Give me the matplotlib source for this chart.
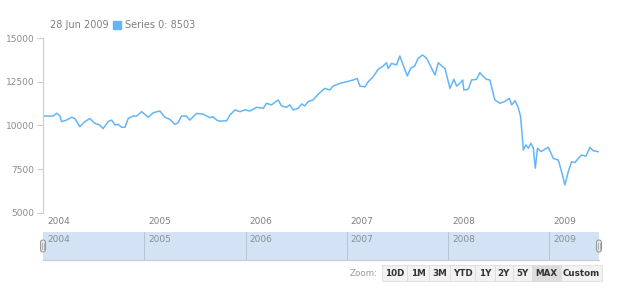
import matplotlib
matplotlib.use("Agg")
import matplotlib.pyplot as plt
import matplotlib.dates as mdates
from matplotlib.patches import Rectangle, FancyBboxPatch
import pandas as pd

# weekly-ish closes
dates = [
    "2004-01-01", "2004-02-07", "2004-02-19", "2004-03-02", "2004-03-08", "2004-03-26",
    "2004-04-13", "2004-04-25", "2004-05-13", "2004-05-31", "2004-06-18", "2004-07-06",
    "2004-07-24", "2004-08-05", "2004-08-23", "2004-09-05", "2004-09-17", "2004-09-28",
    "2004-10-11", "2004-10-23", "2004-11-04", "2004-11-22", "2004-12-04", "2004-12-22",
    "2005-01-15", "2005-02-02", "2005-02-26", "2005-03-16", "2005-04-03", "2005-04-21",
    "2005-05-03", "2005-05-15", "2005-06-02", "2005-06-14", "2005-07-08", "2005-08-01",
    "2005-08-25", "2005-09-06", "2005-09-19", "2005-10-01", "2005-10-25", "2005-11-06",
    "2005-11-24", "2005-12-12", "2005-12-30", "2006-01-17", "2006-02-10", "2006-03-06",
    "2006-03-18", "2006-04-05", "2006-04-29", "2006-05-11", "2006-05-29", "2006-06-10",
    "2006-06-22", "2006-07-10", "2006-07-23", "2006-08-03", "2006-08-15", "2006-09-02",
    "2006-09-20", "2006-10-14", "2006-11-01", "2006-11-13", "2006-12-08", "2007-01-01",
    "2007-01-25", "2007-02-08", "2007-02-18", "2007-03-08", "2007-03-20", "2007-04-07",
    "2007-04-25", "2007-05-13", "2007-05-25", "2007-05-31", "2007-06-12", "2007-06-30",
    "2007-07-12", "2007-07-24", "2007-08-08", "2007-08-20", "2007-09-04", "2007-09-16",
    "2007-10-02", "2007-10-17", "2007-11-04", "2007-11-16", "2007-11-28", "2007-12-10",
    "2007-12-22", "2008-01-09", "2008-01-23", "2008-02-02", "2008-02-14", "2008-02-24",
    "2008-02-28", "2008-03-15", "2008-03-27", "2008-04-14", "2008-04-26", "2008-05-06",
    "2008-05-20", "2008-06-01", "2008-06-19", "2008-07-07", "2008-07-25", "2008-08-10",
    "2008-08-19", "2008-08-31", "2008-09-11", "2008-09-20", "2008-09-30", "2008-10-09",
    "2008-10-18", "2008-10-27", "2008-11-05", "2008-11-12", "2008-11-20", "2008-12-02",
    "2008-12-17", "2008-12-29", "2009-01-16", "2009-02-03", "2009-02-15", "2009-02-27",
    "2009-03-11", "2009-03-23", "2009-04-04", "2009-04-16", "2009-04-28", "2009-05-14",
    "2009-05-28", "2009-06-09", "2009-06-28",
]
values = [
    10540, 10540, 10700, 10550, 10220, 10310,
    10470, 10400, 9930, 10220, 10400, 10120,
    10030, 9820, 10220, 10310, 10030, 10070,
    9900, 9900, 10410, 10540, 10540, 10790,
    10470, 10730, 10830, 10470, 10350, 10070,
    10160, 10540, 10540, 10310, 10690, 10650,
    10450, 10500, 10310, 10250, 10270, 10600,
    10890, 10790, 10890, 10830, 11040, 10980,
    11270, 11180, 11460, 11120, 11040, 11180,
    10890, 10980, 11230, 11120, 11370, 11460,
    11780, 12120, 12030, 12250, 12410, 12500,
    12600, 12690, 12250, 12210, 12500, 12790,
    13210, 13400, 13590, 13260, 13550, 13460,
    13970, 13460, 12830, 13260, 13400, 13840,
    14030, 13840, 13260, 12890, 13590, 13400,
    13260, 12120, 12640, 12250, 12410, 12600,
    12030, 12070, 12600, 12640, 13020, 12830,
    12640, 12600, 11460, 11270, 11370, 11550,
    11180, 11420, 11040, 10500, 8600, 8890,
    8700, 8980, 8700, 7560, 8700, 8510,
    8640, 8750, 8120, 8030, 7360, 6600,
    7360, 7930, 7880, 8120, 8310, 8250,
    8750, 8560, 8503,
]
years = ["2004", "2005", "2006", "2007", "2008", "2009"]
y_ticks = [5000, 7500, 10000, 12500, 15000]
zoom_buttons = ["10D", "1M", "3M", "YTD", "1Y", "2Y", "5Y", "MAX", "Custom"]
legend_date = "28 Jun 2009"
legend_text = "Series 0: 8503"

W, H = 620, 300
LINE = "#64b5f6"
GRAY = "#808080"

x = pd.to_datetime(dates)
year_starts = pd.to_datetime([y + "-01-01" for y in years])
x_min, x_max = pd.Timestamp("2004-01-01"), pd.Timestamp("2009-06-30")

plt.rcParams["font.family"] = ["DejaVu Sans"]
fig = plt.figure(figsize=(W / 100, H / 100), dpi=100)
fig.patch.set_facecolor("white")


def px_axes(left, top, right, bottom):
    return fig.add_axes([left / W, 1 - bottom / H, (right - left) / W, (bottom - top) / H])


# main plot
ax = px_axes(43, 38, 599, 213)
ax.plot(x, values, color=LINE, lw=1.1)
ax.set_xlim(x_min, x_max)
ax.set_ylim(5000, 15000)
ax.set_yticks(y_ticks)
ax.set_yticklabels([str(v) for v in y_ticks])
ax.tick_params(axis="y", length=4, width=0.8, color="#cccccc", labelsize=6.5,
               labelcolor="#8c8c8c", pad=2)
ax.set_xticks([])
for s in ["top", "right", "bottom"]:
    ax.spines[s].set_visible(False)
ax.spines["left"].set_color("#cccccc")
ax.set_facecolor("none")
for ys in year_starts:
    ax.annotate(ys.strftime("%Y"), xy=(mdates.date2num(ys), 0), xycoords=("data", "axes fraction"),
                xytext=(3, -3), textcoords="offset points", ha="left", va="top",
                fontsize=6.5, color=GRAY)

# navigator / scroller
nav = px_axes(43, 232, 599, 260)
nav.set_xlim(x_min, x_max)
nav.set_ylim(0, 1)
nav.add_patch(Rectangle((0, 0), 1, 1, transform=nav.transAxes, color="#d3e2f4", zorder=0))
for ys in year_starts[1:]:
    nav.axvline(ys, color="#b9c4d0", lw=0.7)
for ys in year_starts:
    nav.annotate(ys.strftime("%Y"), xy=(mdates.date2num(ys), 1), xycoords=("data", "axes fraction"),
                 xytext=(3, -2), textcoords="offset points", ha="left", va="top",
                 fontsize=6.5, color="#8a8f96")
nav.set_xticks([])
nav.set_yticks([])
for s in nav.spines.values():
    s.set_visible(False)
nav.spines["bottom"].set_visible(True)
nav.spines["bottom"].set_color("#c8ccd0")

# overlay in pixel coordinates for legend, handles and buttons
ov = fig.add_axes([0, 0, 1, 1])
ov.set_xlim(0, W)
ov.set_ylim(H, 0)
ov.axis("off")
ov.patch.set_alpha(0)

ov.text(50, 25, legend_date, fontsize=7, color=GRAY, va="center", ha="left")
ov.add_patch(Rectangle((113, 21), 8, 8, color=LINE))
ov.text(125, 25, legend_text, fontsize=7, color=GRAY, va="center", ha="left")

for hx in (43, 599):
    ov.add_patch(FancyBboxPatch((hx - 2.5, 240), 5, 12, boxstyle="round,pad=0,rounding_size=2.5",
                                fc="#e8e8e8", ec="#9a9a9a", lw=0.8, zorder=5))
    ov.plot([hx - 0.8, hx - 0.8], [243, 249], color="#9a9a9a", lw=0.5, zorder=6)
    ov.plot([hx + 0.8, hx + 0.8], [243, 249], color="#9a9a9a", lw=0.5, zorder=6)

edges = [382, 407, 429, 450, 475, 495, 513, 532, 561, 602]
ov.text(378, 273, "Zoom:", fontsize=6.3, color="#999999", ha="right", va="center")
for i, label in enumerate(zoom_buttons):
    x0, x1 = edges[i], edges[i + 1]
    fc = "#dcdcdc" if label == "MAX" else "#f2f2f2"
    ov.add_patch(Rectangle((x0, 265), x1 - x0, 16, fc=fc, ec="#dddddd", lw=0.6))
    ov.text((x0 + x1) / 2, 273, label, fontsize=6.3, fontweight="bold", color="#333333",
            ha="center", va="center")

fig.savefig("out.png", dpi=100)
